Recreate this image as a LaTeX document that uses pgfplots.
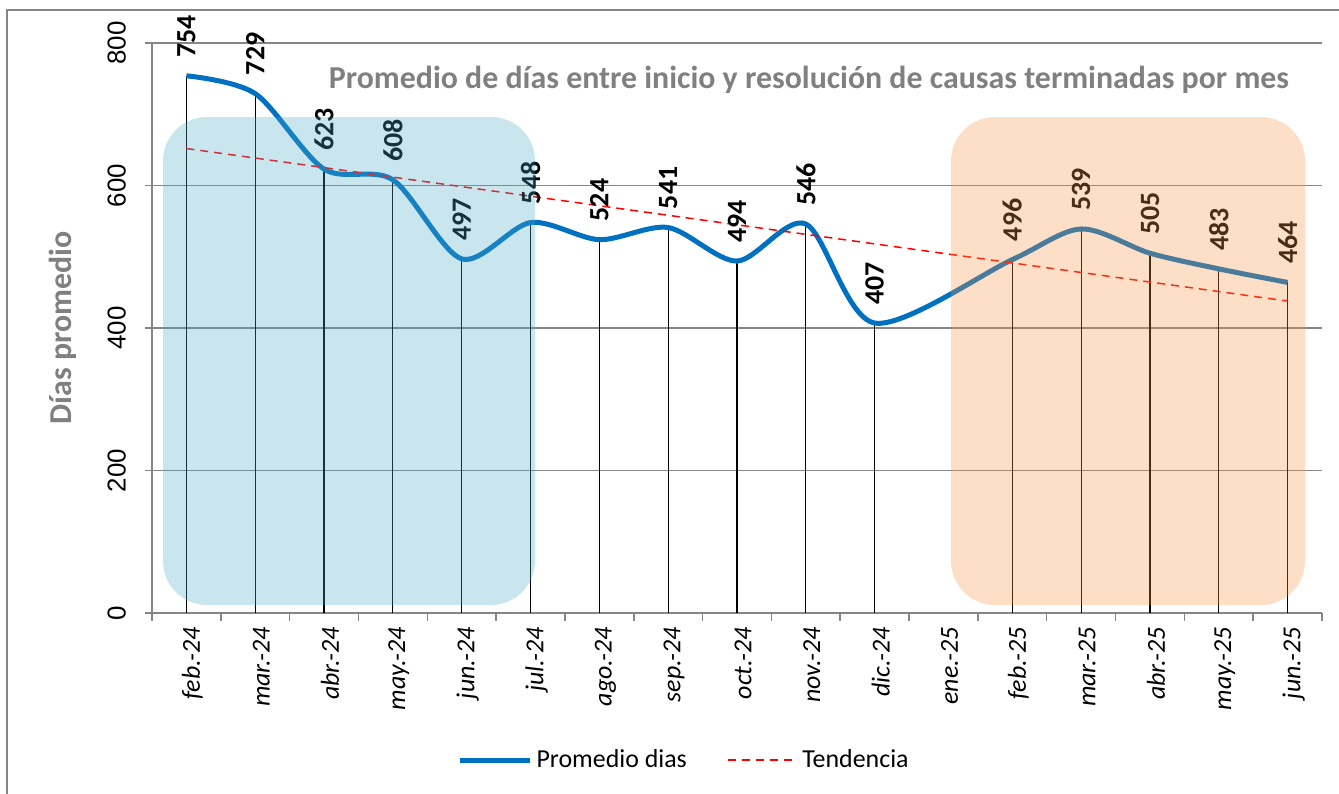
\documentclass[border=0pt]{standalone}
\usepackage{fontspec}
\setmainfont{Carlito}
\newfontfamily\arialfont{Liberation Sans}
\usepackage{pgfplots}
\pgfplotsset{compat=1.18}
\usepackage{pgfplotstable}

\definecolor{lineblue}{HTML}{0070C0}
\definecolor{gridgray}{HTML}{868686}
\definecolor{boxblue}{HTML}{4BACC6}
\definecolor{boxorange}{HTML}{F79646}
\definecolor{titlegray}{HTML}{808080}

% ene.-25 (x=11) has no value
\pgfplotstableread{
x y
0 754
1 729
2 623
3 608
4 497
5 548
6 524
7 541
8 494
9 546
10 407
12 496
13 539
14 505
15 483
16 464
}\promedio

\begin{document}
\begin{tikzpicture}
\begin{axis}[
    at={(76bp,-306.5bp)}, anchor=south west,
    width=585bp, height=285bp, scale only axis,
    xmin=-0.5, xmax=16.5, ymin=0, ymax=800,
    axis lines*=left,
    axis line style={gridgray, line width=1bp},
    tick style={gridgray, line width=0.75bp},
    tick align=outside,
    major tick length=3.5bp, minor tick length=4bp,
    ytick={0,200,...,800},
    ymajorgrids, grid style={gridgray, line width=0.75bp},
    xtick={0,...,16},
    major x tick style={draw=none},
    minor xtick={-0.5,0.5,...,16.5},
    xticklabels={feb.-24,mar.-24,abr.-24,may.-24,jun.-24,jul.-24,ago.-24,sep.-24,oct.-24,nov.-24,dic.-24,ene.-25,feb.-25,mar.-25,abr.-25,may.-25,jun.-25},
    xticklabel style={rotate=90, anchor=east, yshift=-3bp, font=\itshape\fontsize{13}{15}\selectfont, text=black},
    yticklabel style={rotate=90, anchor=south, font=\arialfont\fontsize{13}{15}\selectfont, text=black},
    yticklabel shift=6bp,
    /pgf/number format/assume math mode=true,
    legend style={at={(0.4556,-0.258)}, anchor=center, draw=none, fill=none,
        legend columns=2, font=\fontsize{13}{15}\selectfont,
        /tikz/every even column/.append style={column sep=18bp}},
    legend image code/.code={\draw[#1] (0bp,0bp) -- (35bp,0bp);},
]
\addplot[ycomb, black, line width=0.6bp, mark=none, forget plot] table[x=x, y=y] {\promedio};
\addplot[lineblue, line width=2.5bp, smooth, mark=none,
    nodes near coords,
    every node near coord/.append style={rotate=90, anchor=west, inner xsep=8bp, inner ysep=0pt,
        font=\bfseries\fontsize{14}{16}\selectfont, text=black}]
    table[x=x, y=y] {\promedio};
\addplot[red, dashed, line width=0.75bp, mark=none, dash pattern=on 4bp off 3bp] coordinates {(0,651.9) (16,437.8)};
\legend{Promedio dias, Tendencia}
\end{axis}
% highlight boxes
\fill[boxblue, opacity=0.3, rounded corners=22bp] (81.5bp,-58.5bp) rectangle (267.5bp,-302.5bp);
\fill[boxorange, opacity=0.3, rounded corners=22bp] (475.5bp,-58.5bp) rectangle (652.5bp,-302.5bp);
% title and y label
\node[font=\bfseries\fontsize{16}{18}\selectfont, text=titlegray] at (404.5bp,-40bp) {Promedio de días entre inicio y resolución de causas terminadas por mes};
\node[font=\bfseries\fontsize{16}{18}\selectfont, text=titlegray, rotate=90] at (31.5bp,-164bp) {Días promedio};
% chart border
\draw[gridgray, line width=1bp] (3.5bp,-5bp) rectangle (680bp,-410bp);
\pgfresetboundingbox
\path (0bp,0bp) rectangle (669.5bp,-397bp);
\end{tikzpicture}
\end{document}
